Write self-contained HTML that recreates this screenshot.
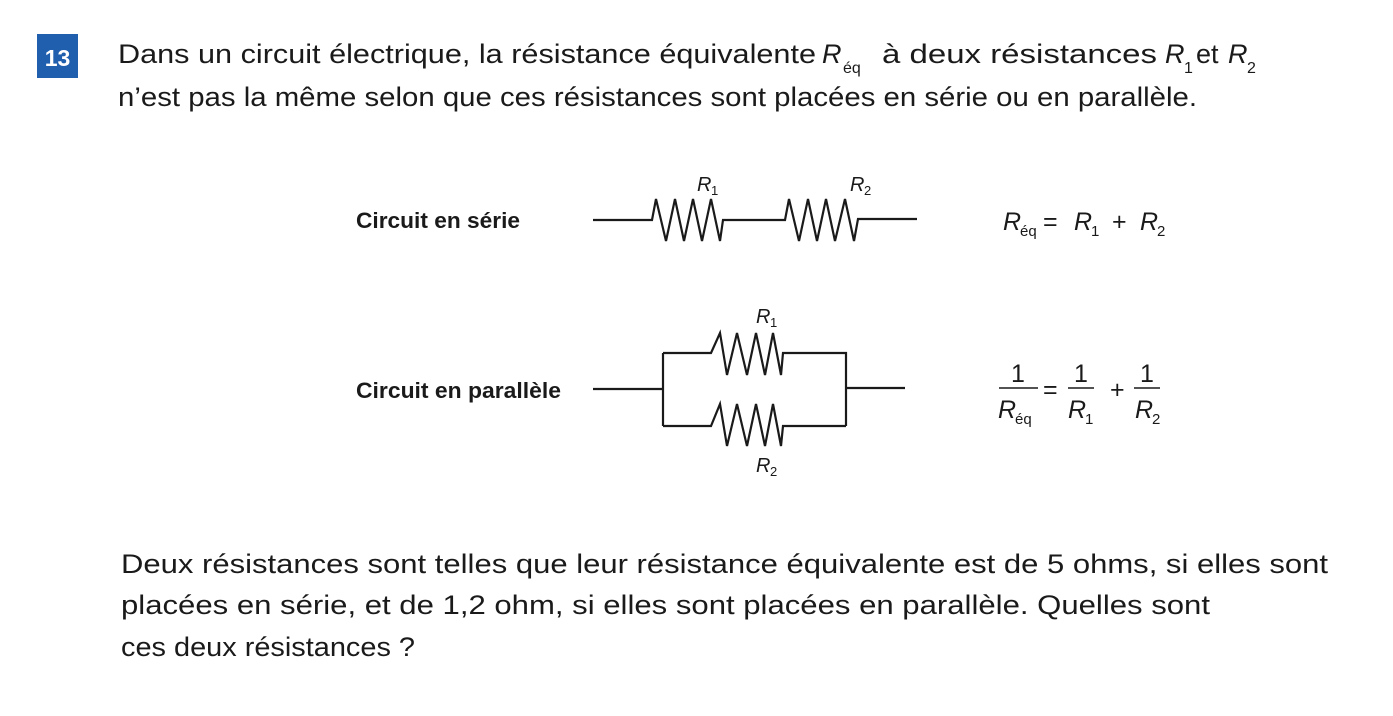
<!DOCTYPE html>
<html><head><meta charset="utf-8"><style>
html,body{margin:0;padding:0;background:#fff;}
svg{display:block;}
.b{font-family:"Liberation Sans",sans-serif;font-size:27px;fill:#1a1a1a;}
.s{font-family:"Liberation Sans",sans-serif;font-size:16px;fill:#1a1a1a;}
.n{font-family:"Liberation Sans Narrow","Liberation Sans",sans-serif;fill:#1a1a1a;}
.i{font-style:italic;}
</style></head><body>
<svg width="1393" height="716" viewBox="0 0 1393 716" xmlns="http://www.w3.org/2000/svg">
<rect x="37" y="34" width="41" height="44" fill="#1f5fae"/>
<text x="57.5" y="66" text-anchor="middle" font-family="Liberation Sans" font-weight="bold" font-size="23" fill="#fff">13</text>

<text class="b" x="118" y="63" textLength="698" lengthAdjust="spacingAndGlyphs">Dans un circuit électrique, la résistance équivalente</text>
<text class="b i" x="822" y="63">R</text>
<text class="s" x="843" y="73">éq</text>
<text class="b" x="882" y="63" textLength="275" lengthAdjust="spacingAndGlyphs">à deux résistances</text>
<text class="b i" x="1165" y="63">R</text>
<text class="s" x="1184" y="73">1</text>
<text class="b" x="1196" y="63">et</text>
<text class="b i" x="1228" y="63">R</text>
<text class="s" x="1247" y="73">2</text>
<text class="b" x="118" y="106" textLength="1079" lengthAdjust="spacingAndGlyphs">n’est pas la même selon que ces résistances sont placées en série ou en parallèle.</text>

<text class="n" x="356" y="228" font-size="22" font-weight="bold" textLength="164" lengthAdjust="spacingAndGlyphs">Circuit en série</text>
<text class="n" x="356" y="398" font-size="22" font-weight="bold" textLength="205" lengthAdjust="spacingAndGlyphs">Circuit en parallèle</text>

<g fill="none" stroke="#1a1a1a" stroke-width="2.2" stroke-linejoin="miter">
<polyline points="593,220 652,220 656,199 666,241 675,199 684,241 693,199 702,241 711,199 720,241 723,220 785,220 789,199 799,241 808,199 817,241 826,199 835,241 845,199 854,241 858,219 917,219"/>
<polyline points="593,389 663,389"/>
<polyline points="663,353 663,426"/>
<polyline points="663,353 711,353 720,333 727,375 737,333 747,375 756,333 765,375 773,333 781,375 783,353 846,353 846,426"/>
<polyline points="663,426 711,426 720,404 727,446 737,404 747,446 756,404 765,446 773,404 781,446 783,426 846,426"/>
<polyline points="846,388 905,388"/>
<line x1="999" y1="388" x2="1038" y2="388" stroke-width="1.5"/>
<line x1="1068" y1="388" x2="1094" y2="388" stroke-width="1.5"/>
<line x1="1134" y1="388" x2="1160" y2="388" stroke-width="1.5"/>
</g>

<g class="n" font-size="20">
<text class="i" x="697" y="191">R</text><text x="711" y="195" font-size="13">1</text>
<text class="i" x="850" y="191">R</text><text x="864" y="195" font-size="13">2</text>
<text class="i" x="756" y="323">R</text><text x="770" y="327" font-size="13">1</text>
<text class="i" x="756" y="472">R</text><text x="770" y="476" font-size="13">2</text>
</g>
<g class="n" font-size="25">
<text class="i" x="1003" y="230">R</text><text x="1020" y="236" font-size="15">éq</text>
<text x="1043" y="230">=</text>
<text class="i" x="1074" y="230">R</text><text x="1091" y="236" font-size="15">1</text>
<text x="1112" y="230">+</text>
<text class="i" x="1140" y="230">R</text><text x="1157" y="236" font-size="15">2</text>

<text x="1011" y="382">1</text>
<text class="i" x="998" y="418">R</text><text x="1015" y="424" font-size="15">éq</text>
<text x="1043" y="398">=</text>
<text x="1074" y="382">1</text>
<text class="i" x="1068" y="418">R</text><text x="1085" y="424" font-size="15">1</text>
<text x="1110" y="398">+</text>
<text x="1140" y="382">1</text>
<text class="i" x="1135" y="418">R</text><text x="1152" y="424" font-size="15">2</text>
</g>

<text class="b" x="121" y="573" textLength="1207" lengthAdjust="spacingAndGlyphs">Deux résistances sont telles que leur résistance équivalente est de 5 ohms, si elles sont</text>
<text class="b" x="121" y="614" textLength="1089" lengthAdjust="spacingAndGlyphs">placées en série, et de 1,2 ohm, si elles sont placées en parallèle. Quelles sont</text>
<text class="b" x="121" y="656" textLength="294" lengthAdjust="spacingAndGlyphs">ces deux résistances ?</text>
</svg>
</body></html>
